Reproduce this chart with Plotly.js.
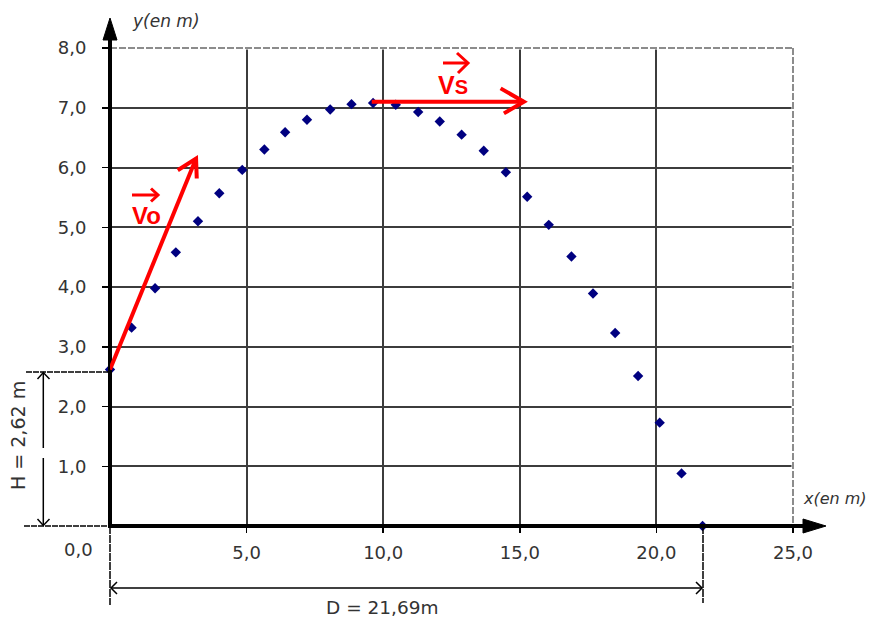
<!DOCTYPE html>
<html>
<head>
<meta charset="utf-8">
<script src="https://cdn.plot.ly/plotly-3.0.1.min.js"></script>
<style>html,body{margin:0;padding:0;background:#fff;}#chart{width:869px;height:619px;}</style>
</head>
<body>
<div id="chart"></div>
<script>
// ---------- data ----------
const xPos = [0, 0.79, 1.65, 2.41, 3.22, 4.00, 4.84, 5.65, 6.41, 7.21, 8.06, 8.84, 9.63, 10.46,
  11.28, 12.07, 12.87, 13.68, 14.49, 15.27, 16.06, 16.89, 17.68, 18.49, 19.33, 20.12, 20.92, 21.69];
const yPos = [2.62, 3.32, 3.98, 4.58, 5.10, 5.57, 5.96, 6.30, 6.59, 6.80, 6.97, 7.06, 7.08, 7.05,
  6.93, 6.77, 6.55, 6.28, 5.92, 5.51, 5.04, 4.51, 3.89, 3.23, 2.51, 1.73, 0.88, 0.00];
const xTickVals = [5, 10, 15, 20, 25];
const xTickText = ['5,0', '10,0', '15,0', '20,0', '25,0'];
const yTickVals = [1, 2, 3, 4, 5, 6, 7, 8];
const yTickText = ['1,0', '2,0', '3,0', '4,0', '5,0', '6,0', '7,0', '8,0'];
const voTail = [0, 2.62];
const voTip = [3.15, 6.15];
const vsTail = [9.58, 7.10];
const vsTip = [15.15, 7.10];
const heightH = 2.62;
const distD = 21.69;

// ---------- geometry helpers (pixel layout) ----------
const L = 110, T = 48, W = 683, H = 478;
const X = px => (px - L) / W;          // pixel -> paper
const Y = py => (T + H - py) / H;
const pxPerX = W / 25, pxPerY = H / 8;

const shapes = [];
function pline(x0, y0, x1, y1, color, width, dash) {
  shapes.push({type: 'line', xref: 'paper', yref: 'paper', x0: X(x0), y0: Y(y0), x1: X(x1), y1: Y(y1),
    line: {color: color, width: width, dash: dash || 'solid'}, layer: 'above'});
}
function ppath(pts, color, width, fill) {
  let d = pts.map((p, i) => (i ? 'L' : 'M') + X(p[0]) + ',' + Y(p[1])).join(' ');
  if (fill) d += ' Z';
  shapes.push({type: 'path', xref: 'paper', yref: 'paper', path: d,
    line: {color: color, width: width}, fillcolor: fill ? color : 'rgba(0,0,0,0)', layer: 'above'});
}
// data-coordinate vector with hand-drawn open arrowhead (barb offsets in px)
function vector(tail, tip, b1, b2) {
  shapes.push({type: 'line', xref: 'x', yref: 'y', x0: tail[0], y0: tail[1], x1: tip[0], y1: tip[1],
    line: {color: '#ff0000', width: 4}, layer: 'above'});
  const bp = b => [tip[0] + b[0] / pxPerX, tip[1] - b[1] / pxPerY];
  const p1 = bp(b1), p2 = bp(b2);
  shapes.push({type: 'path', xref: 'x', yref: 'y',
    path: 'M' + p1[0] + ',' + p1[1] + ' L' + tip[0] + ',' + tip[1] + ' L' + p2[0] + ',' + p2[1],
    line: {color: '#ff0000', width: 4}, layer: 'above'});
}

// plot border (top / right) : hide grid at the edge, then grey dashed line
pline(110, 48, 793, 48, '#ffffff', 3);
pline(793, 48, 793, 526, '#ffffff', 3);
pline(110, 48, 793, 48, '#8c8c8c', 2, '7px,2px');
pline(793, 48, 793, 526, '#8c8c8c', 2, '7px,2px');

// H dimension
pline(26, 372, 110, 372, '#000', 1.5, '6px,1px');
pline(24, 526, 110, 526, '#000', 1.5, '6px,1px');
pline(43.3, 373, 43.3, 448, '#000', 1.5);
pline(43.3, 458, 43.3, 525, '#000', 1.5);
ppath([[37.5, 379], [43.3, 372.5], [49.5, 379]], '#000', 1.5);
ppath([[37.5, 519], [43.3, 525.5], [49.5, 519]], '#000', 1.5);

// D dimension
pline(110, 526, 110, 605, '#000', 1.5, '8px,1px');
pline(703, 526, 703, 603, '#000', 1.5, '8px,1px');
pline(111, 588, 702, 588, '#000', 1.5);
ppath([[117, 582], [111, 588], [117, 594]], '#000', 1.5);
ppath([[696, 582], [702, 588], [696, 594]], '#000', 1.5);

// thick axes with arrows
pline(110, 528, 110, 38, '#000', 4);
pline(108, 526, 806, 526, '#000', 4);
ppath([[103, 40], [110, 18], [117, 40]], '#000', 1, true);
ppath([[803, 519], [826, 526], [803, 533]], '#000', 1, true);

// red vectors
vector(voTail, voTip, [-18.3, 11.7], [0.7, 20]);
vector(vsTail, vsTip, [-23.3, -13.4], [-20, 11.6]);
// small arrows above the labels
pline(132, 195, 157, 195, '#ff0000', 3);
ppath([[151, 188.5], [158, 195], [151, 201.5]], '#ff0000', 3);
pline(443, 63, 467, 63, '#ff0000', 3);
ppath([[457, 53], [468, 63], [458, 73]], '#ff0000', 3);

const tickFont = {family: 'DejaVu Sans', size: 18, color: '#333'};
const annotations = [
  {text: '0,0', x: X(78), y: Y(549)},
  {text: 'y(en m)', x: X(166), y: Y(21), font: {family: 'DejaVu Sans', size: 17, color: '#333', style: 'italic'}},
  {text: 'x(en m)', x: X(835), y: Y(498), font: {family: 'DejaVu Sans', size: 16, color: '#333', style: 'italic'}},
  {text: 'H = ' + heightH.toFixed(2).replace('.', ',') + ' m', x: X(18), y: Y(436), textangle: -90,
    font: {family: 'DejaVu Sans', size: 19, color: '#333'}},
  {text: 'D = ' + distD.toFixed(2).replace('.', ',') + 'm', x: X(382), y: Y(607),
    font: {family: 'DejaVu Sans', size: 18.5, color: '#333'}},
  {text: '<b>Vo</b>', x: X(146), y: Y(215), font: {family: 'Liberation Sans', size: 24, color: '#ff0000'}},
  {text: '<b>V<span style="font-size:20px">S</span></b>', x: X(453), y: Y(85),
    font: {family: 'Liberation Sans', size: 25, color: '#ff0000'}}
].map(a => Object.assign({xref: 'paper', yref: 'paper', showarrow: false, xanchor: 'center', yanchor: 'middle',
  font: tickFont}, a));

const trace = {
  x: xPos, y: yPos, type: 'scatter', mode: 'markers', cliponaxis: false,
  marker: {symbol: 'diamond', size: 8, color: '#000080'}, hoverinfo: 'none'
};

const layout = {
  width: 869, height: 619,
  margin: {l: L, r: 869 - L - W, t: T, b: 619 - T - H, pad: 0},
  paper_bgcolor: '#fff', plot_bgcolor: '#fff', showlegend: false,
  xaxis: {range: [0, 25], tickmode: 'array', tickvals: xTickVals, ticktext: xTickText,
    showgrid: true, gridcolor: '#3c3c3c', gridwidth: 2, zeroline: false, showline: false,
    ticks: 'outside', ticklen: 6, tickwidth: 1.5, tickcolor: '#000', tickfont: tickFont,
    ticklabelstandoff: 4, fixedrange: true},
  yaxis: {range: [0, 8], tickmode: 'array', tickvals: yTickVals, ticktext: yTickText,
    showgrid: true, gridcolor: '#3c3c3c', gridwidth: 2, zeroline: false, showline: false,
    ticks: 'outside', ticklen: 7, tickwidth: 1.5, tickcolor: '#000', tickfont: tickFont,
    ticklabelstandoff: 12, fixedrange: true},
  shapes: shapes,
  annotations: annotations
};

Plotly.newPlot('chart', [trace], layout, {displayModeBar: false, staticPlot: true});
</script>
</body>
</html>
